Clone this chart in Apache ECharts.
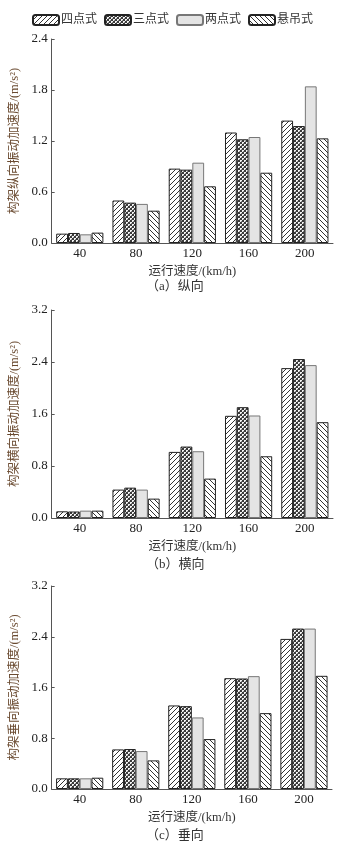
<!DOCTYPE html>
<html><head><meta charset="utf-8">
<script src="https://cdn.jsdelivr.net/npm/echarts@6/dist/echarts.min.js"></script>
<style>html,body{margin:0;padding:0;background:#fff}#c{width:345px;height:845px}</style>
</head><body><div id="c"></div>
<script>
const categories = ['40','80','120','160','200'];
const seriesNames = ['四点式','三点式','两点式','悬吊式'];
// (a) 纵向
const aFour  = [0.11, 0.50, 0.875, 1.30, 1.44];
const aThree = [0.118, 0.475, 0.863, 1.22, 1.376];
const aTwo   = [0.102, 0.46, 0.945, 1.247, 1.843];
const aSusp  = [0.122, 0.38, 0.667, 0.827, 1.231];
// (b) 横向
const bFour  = [0.103, 0.437, 1.017, 1.572, 2.306];
const bThree = [0.10, 0.467, 1.099, 1.705, 2.445];
const bTwo   = [0.113, 0.437, 1.027, 1.577, 2.352];
const bSusp  = [0.113, 0.298, 0.606, 0.95, 1.474];
// (c) 垂向
const cFour  = [0.168, 0.624, 1.317, 1.747, 2.366];
const cThree = [0.168, 0.63, 1.306, 1.742, 2.529];
const cTwo   = [0.168, 0.598, 1.128, 1.779, 2.529];
const cSusp  = [0.178, 0.451, 0.787, 1.196, 1.784];
const yTicksA = {max: 2.4, interval: 0.6};
const yTicksBC = {max: 3.2, interval: 0.8};
const yNames = ['构架纵向振动加速度/(m/s²)','构架横向振动加速度/(m/s²)','构架垂向振动加速度/(m/s²)'];
const captions = ['（a）纵向','（b）横向','（c）垂向'];
const xName = '运行速度/(km/h)';

function stripe(forward){
  const s=5, c=document.createElement('canvas'); c.width=s; c.height=s;
  const g=c.getContext('2d'); g.fillStyle='#fff'; g.fillRect(0,0,s,s);
  g.strokeStyle='#333'; g.lineWidth=1;
  const segs = forward ? [[-1,s+1,s+1,-1],[-1,1,1,-1],[s-1,s+1,s+1,s-1]]
                       : [[-1,-1,s+1,s+1],[-1,s-1,1,s+1],[s-1,-1,s+1,1]];
  segs.forEach(p=>{g.beginPath();g.moveTo(p[0],p[1]);g.lineTo(p[2],p[3]);g.stroke();});
  return c;
}
function checker(){
  const c=document.createElement('canvas'); c.width=4; c.height=4;
  const g=c.getContext('2d'); g.fillStyle='#3a3a3a'; g.fillRect(0,0,4,4);
  g.fillStyle='#f4f4f4'; g.fillRect(0,0,2,2); g.fillRect(2,2,2,2);
  g.fillStyle='#888'; g.fillRect(1,1,1,1); g.fillRect(3,3,1,1);
  return c;
}
const fills = [
  {image: stripe(true), repeat:'repeat'},
  {image: checker(), repeat:'repeat'},
  '#e4e4e4',
  {image: stripe(false), repeat:'repeat'}
];
const borders = ['#222','#222','#777','#222'];

const font = 'Liberation Serif, "Noto Sans CJK SC", serif';
const grids = [
  {left:43, right:12, top:39, height:204},
  {left:47, right:12, top:310, height:208},
  {left:47, right:13, top:586, height:203}
];
const dataSets = [[aFour,aThree,aTwo,aSusp],[bFour,bThree,bTwo,bSusp],[cFour,cThree,cTwo,cSusp]];
const yTicks = [yTicksA, yTicksBC, yTicksBC];

const xAxis=[], yAxis=[], series=[];
grids.forEach((gr,i)=>{
  xAxis.push({type:'category', gridIndex:i, data:categories,
    axisLine:{lineStyle:{color:'#555',width:1}}, axisTick:{show:false},
    axisLabel:{color:'#222', fontSize:13, fontFamily:font, margin:4},
    name:xName, nameLocation:'middle', nameGap:22,
    nameTextStyle:{color:'#333', fontSize:12.5, fontFamily:font}});
  yAxis.push({type:'value', gridIndex:i, min:0, max:yTicks[i].max, interval:yTicks[i].interval,
    splitLine:{show:false},
    axisLine:{show:true, lineStyle:{color:'#555',width:1}},
    axisTick:{show:true, inside:true, length:3, lineStyle:{color:'#555'}},
    axisLabel:{color:'#222', fontSize:13, fontFamily:font, margin:4, formatter:v=>v.toFixed(1)},
    name:yNames[i], nameLocation:'middle', nameGap:28, nameRotate:90,
    nameTextStyle:{color:'#6a4a30', fontSize:12.5, fontFamily:font}});
  dataSets[i].forEach((d,k)=>{
    series.push({type:'bar', name:seriesNames[k], xAxisIndex:i, yAxisIndex:i, data:d,
      barWidth:11.8, barGap:'0%',
      itemStyle:{color:fills[k], borderColor:borders[k], borderWidth:1}});
  });
});

const chart = echarts.init(document.getElementById('c'), null, {renderer:'canvas'});
chart.setOption({
  animation:false,
  backgroundColor:'#fff',
  legend:{top:9, left:'center', itemWidth:26, itemHeight:10, itemGap:7,
    data:seriesNames, textStyle:{color:'#333', fontSize:12, fontFamily:font, padding:[0,0,0,-3]}},
  grid:grids, xAxis:xAxis, yAxis:yAxis, series:series,
  graphic: captions.map((t,i)=>({type:'text', left:146, top:[280,558,829][i],
    style:{text:t, fill:'#333', font:'13px '+font}}))
});
</script></body></html>
